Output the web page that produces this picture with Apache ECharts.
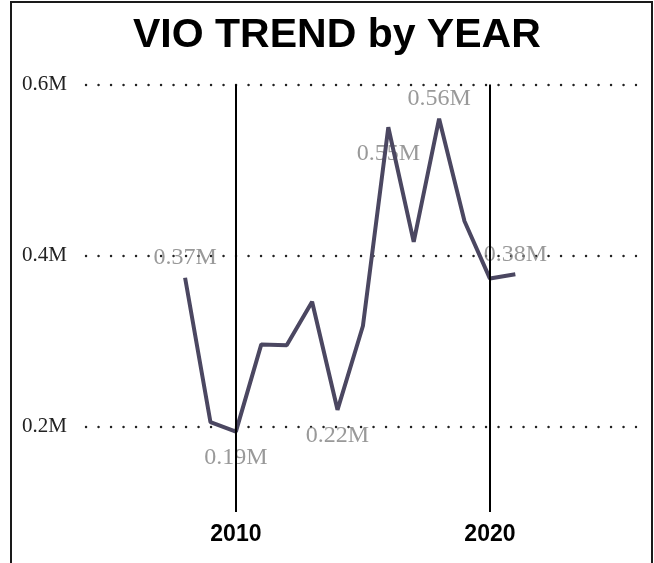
<!DOCTYPE html>
<html lang="en">
<head>
    <meta charset="UTF-8">
    <title>VIO TREND by YEAR</title>
    <script src="https://cdn.jsdelivr.net/npm/echarts@6/dist/echarts.min.js"></script>
    <style>
        html, body { margin: 0; padding: 0; background: #fff; overflow: hidden; }
        #chart { position: absolute; left: 0; top: 0; width: 654px; height: 563px; }
        .frame {
            position: absolute;
            left: 10px; top: 1px;
            width: 639px; height: 600px;
            border: 2px solid #1a1a1a;
            border-bottom: none;
            pointer-events: none;
        }
    </style>
</head>
<body>
    <div id="chart"></div>
    <div class="frame"></div>
    <script>
        // values (in millions)
        var years = [2008, 2009, 2010, 2011, 2012, 2013, 2014, 2015, 2016, 2017, 2018, 2019, 2020, 2021];
        var vio = [0.374, 0.205, 0.194, 0.296, 0.295, 0.346, 0.2195, 0.3175, 0.550, 0.416, 0.560, 0.440, 0.373, 0.378];
        // which points carry a data label, and where
        var labelPos = { 2008: 'top', 2010: 'bottom', 2014: 'bottom', 2016: 'bottom', 2018: 'top', 2021: 'top' };
        var yTicks = [0.2, 0.4, 0.6];
        var xTicks = [2010, 2020];

        var chart = echarts.init(document.getElementById('chart'));

        var linePts = years.map(function (y, i) { return [y, vio[i]]; });
        var labelPts = [];
        years.forEach(function (y, i) {
            if (labelPos[y]) {
                labelPts.push({
                    value: [y, vio[i]],
                    label: { position: labelPos[y], distance: labelPos[y] === 'top' ? 8 : 14 }
                });
            }
        });

        var option = {
            animation: false,
            title: {
                text: 'VIO TREND by YEAR',
                left: 128,
                top: 10,
                textStyle: { fontFamily: 'Liberation Sans, Arial', fontWeight: 'bold', fontSize: 41, color: '#000' }
            },
            grid: { left: 86, right: 18, top: 84.5, bottom: 51 },
            xAxis: {
                type: 'value',
                min: 2004.1,
                max: 2025.75,
                axisLine: { show: false },
                axisTick: { show: false },
                splitLine: { show: false },
                axisLabel: {
                    customValues: xTicks,
                    margin: 11,
                    fontFamily: 'Liberation Sans, Arial',
                    fontWeight: 'bold',
                    fontSize: 23,
                    color: '#000',
                    formatter: function (v) { return String(v); }
                }
            },
            yAxis: {
                type: 'value',
                min: 0.1,
                max: 0.6,
                interval: 0.1,
                axisLine: { show: false },
                axisTick: { show: false },
                axisLabel: {
                    align: 'left',
                    margin: 64,
                    fontFamily: 'Liberation Serif, Times New Roman',
                    fontSize: 21,
                    color: '#222',
                    formatter: function (v) {
                        var r = Math.round(v * 10) / 10;
                        return yTicks.indexOf(r) >= 0 ? r + 'M' : '';
                    }
                },
                splitLine: {
                    show: true,
                    lineStyle: {
                        color: ['transparent', '#222'],
                        width: 2.4,
                        type: [0.1, 12.4],
                        cap: 'round'
                    }
                }
            },
            series: [{
                type: 'line',
                data: linePts,
                symbol: 'none',
                lineStyle: { color: '#4b4761', width: 4 },
                markLine: {
                    silent: true,
                    symbol: 'none',
                    label: { show: false },
                    lineStyle: { color: '#000', width: 2, type: 'solid' },
                    data: xTicks.map(function (x) { return { xAxis: x }; })
                }
            }, {
                type: 'scatter',
                data: labelPts,
                symbolSize: 0,
                silent: true,
                label: {
                    show: true,
                    fontFamily: 'Liberation Serif, Times New Roman',
                    fontSize: 24,
                    color: '#808080',
                    formatter: function (p) { return p.value[1].toFixed(2) + 'M'; }
                }
            }]
        };

        chart.setOption(option);
    </script>
</body>
</html>
